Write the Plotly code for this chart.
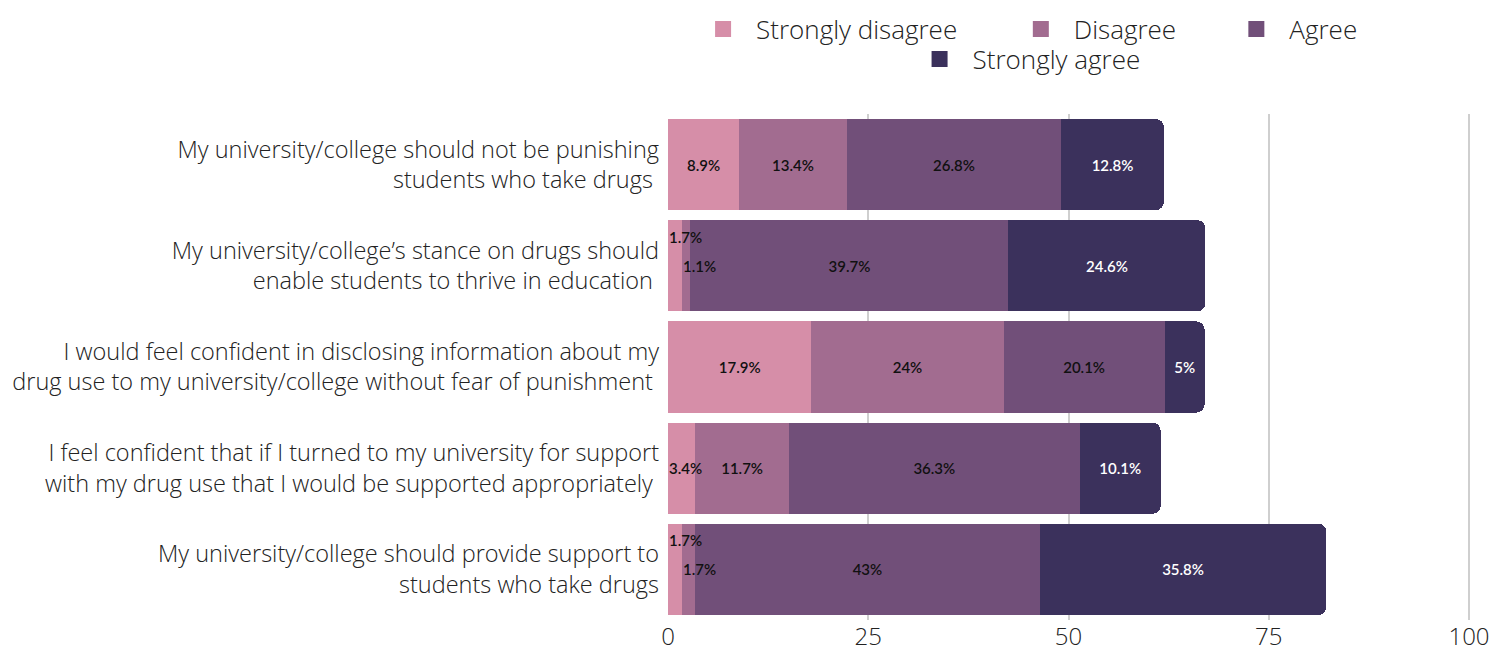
import plotly.graph_objects as go

statements = [
    "My university/college should not be punishing<br>students who take drugs\u00a0",
    "My university/college\u2019s stance on drugs should<br>enable students to thrive in education\u00a0",
    "I would feel confident in disclosing information about my<br>drug use to my university/college without fear of punishment\u00a0",
    "I feel confident that if I turned to my university for support<br>with my drug use that I would be supported appropriately\u00a0",
    "My university/college should provide support to<br>students who take drugs",
]

responses = ["Strongly disagree", "Disagree", "Agree", "Strongly agree"]

strongly_disagree = [8.9, 1.7, 17.9, 3.4, 1.7]
disagree = [13.4, 1.1, 24.0, 11.7, 1.7]
agree = [26.8, 39.7, 20.1, 36.3, 43.0]
strongly_agree = [12.8, 24.6, 5.0, 10.1, 35.8]

x_ticks = [0, 25, 50, 75, 100]

colors = ["#D68EA8", "#A26C90", "#714F79", "#3B315C"]
text_colors = ["#111111", "#111111", "#111111", "#FFFFFF"]

series = [strongly_disagree, disagree, agree, strongly_agree]

LABEL_FONT = "Open Sans"
VALUE_FONT = "Lato"


def fmt(v):
    return f"{v:g}%"


fig = go.Figure()

small = 4.0
annotations = []
for i, (name, vals) in enumerate(zip(responses, series)):
    texts = [fmt(v) if v >= small else "" for v in vals]
    fig.add_trace(
        go.Bar(
            y=statements,
            x=vals,
            orientation="h",
            name=name,
            marker=dict(color=colors[i], line=dict(width=0)),
            text=texts,
            textposition="inside",
            insidetextanchor="middle",
            textangle=0,
            textfont=dict(family=VALUE_FONT, size=15, color=text_colors[i], weight=600),
            showlegend=False,
            hoverinfo="x+y",
        )
    )

# small segments: label starts at segment start; lifted up when the next one is small too
for j, cat in enumerate(statements):
    start = 0.0
    for i, vals in enumerate(series):
        v = vals[j]
        if v < small:
            next_small = i + 1 < len(series) and series[i + 1][j] < small
            annotations.append(
                dict(
                    x=start,
                    y=cat,
                    xref="x",
                    yref="y",
                    text=fmt(v),
                    showarrow=False,
                    xanchor="left",
                    yanchor="middle",
                    xshift=-1,
                    yshift=29 if next_small else 0,
                    font=dict(family=VALUE_FONT, size=15, color=text_colors[i], weight=600),
                )
            )
        start += v

# legend-only markers (bigger squares than the bar legend symbol)
legend_ids = ["legend", "legend2", "legend3", "legend4"]
for i, name in enumerate(responses):
    fig.add_trace(
        go.Scatter(
            x=[None],
            y=[None],
            mode="markers",
            name=name,
            marker=dict(symbol="square", size=22, color=colors[i]),
            legend=legend_ids[i],
            showlegend=True,
        )
    )

leg_font = dict(family=LABEL_FONT, size=26, color="#222222", weight=300)
leg_common = dict(
    orientation="h",
    font=leg_font,
    itemwidth=56,
    xanchor="left",
    yanchor="middle",
    bgcolor="rgba(0,0,0,0)",
)

fig.update_layout(
    barmode="stack",
    bargap=0.1,
    barcornerradius=8,
    width=1501,
    height=647,
    margin=dict(l=660, r=38, t=106, b=35, autoexpand=False),
    paper_bgcolor="white",
    plot_bgcolor="white",
    font=dict(family=LABEL_FONT, color="#222222", weight=300),
    annotations=annotations,
    legend=dict(x=0.0275, y=1.168, **leg_common),
    legend2=dict(x=0.4232, y=1.168, **leg_common),
    legend3=dict(x=0.6916, y=1.168, **leg_common),
    legend4=dict(x=0.2971, y=1.1087, **leg_common),
    uniformtext=dict(minsize=15, mode="show"),
)

fig.update_xaxes(
    range=[0, 100.25],
    tickvals=x_ticks,
    showgrid=True,
    gridcolor="#CFCFCF",
    gridwidth=1.5,
    zeroline=False,
    showline=False,
    ticks="",
    automargin=False,
    tickfont=dict(family=LABEL_FONT, size=24, color="#222222", weight=300),
)
fig.update_yaxes(
    categoryorder="array",
    categoryarray=statements[::-1],
    showgrid=False,
    zeroline=False,
    showline=False,
    ticks="",
    automargin=False,
    ticklabelstandoff=8,
    tickfont=dict(family=LABEL_FONT, size=23.5, color="#222222", weight=300),
)

fig.write_html("out.html")
